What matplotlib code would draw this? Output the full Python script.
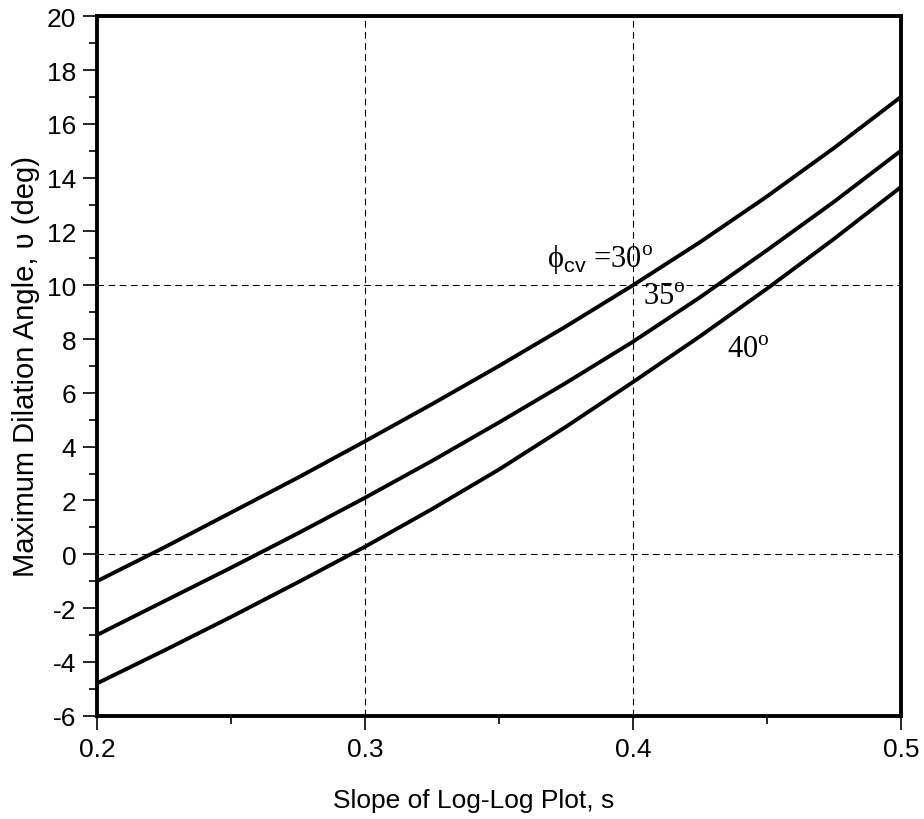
import numpy as np
import matplotlib
matplotlib.use("Agg")
import matplotlib.pyplot as plt
from matplotlib.ticker import MultipleLocator

plt.rcParams['font.family'] = ['Liberation Sans', 'DejaVu Sans']
plt.rcParams['axes.unicode_minus'] = False
plt.rcParams['mathtext.fontset'] = 'custom'
plt.rcParams['mathtext.rm'] = 'Liberation Serif'
plt.rcParams['mathtext.sf'] = 'Liberation Sans'

# slope of log-log plot
slope = [0.200, 0.225, 0.250, 0.275, 0.300, 0.325, 0.350,
         0.375, 0.400, 0.425, 0.450, 0.475, 0.500]
# maximum dilation angle (deg) for each critical-state friction angle
psi_30 = [-1.0, 0.25, 1.55, 2.85, 4.2, 5.58, 7.0,
          8.47, 10.0, 11.6, 13.3, 15.1, 17.0]
psi_35 = [-3.0, -1.75, -0.5, 0.78, 2.1, 3.47, 4.9,
          6.37, 7.9, 9.55, 11.3, 13.1, 15.0]
psi_40 = [-4.8, -3.58, -2.33, -1.04, 0.28, 1.68, 3.15,
          4.74, 6.4, 8.1, 9.87, 11.72, 13.65]

fig = plt.figure(figsize=(9.24, 8.2), dpi=100)
ax = fig.add_axes([0.105, 0.126, 0.870, 0.853])

for psi in (psi_30, psi_35, psi_40):
    ax.plot(slope, psi, color='black', lw=2.8, solid_joinstyle='round', zorder=3)

# reference grid
for xv in (0.3, 0.4):
    ax.axvline(xv, color='black', lw=0.8, ls=(0, (6, 4)), zorder=1)
for yv in (0, 10):
    ax.axhline(yv, color='black', lw=0.8, ls=(0, (6, 4)), zorder=1)

ax.set_xlim(0.2, 0.5)
ax.set_ylim(-6, 20)
ax.set_xticks([0.2, 0.3, 0.4, 0.5])
ax.set_xticklabels(['0.2', '0.3', '0.4', '0.5'])
ax.xaxis.set_minor_locator(MultipleLocator(0.05))
ax.yaxis.set_major_locator(MultipleLocator(2))
ax.yaxis.set_minor_locator(MultipleLocator(1))
ax.tick_params(which='major', direction='out', length=10, width=1.2, labelsize=19, pad=5)
ax.tick_params(which='minor', direction='out', length=6, width=1.2)
for sp in ax.spines.values():
    sp.set_linewidth(2.8)

ax.set_xlabel('Slope of Log-Log Plot, s', fontsize=19)
ax.xaxis.set_label_coords(0.469, -0.104)
ax.set_ylabel('Maximum Dilation Angle, υ (deg)', fontsize=21, labelpad=5)

# curve labels
ax.text(0.368, 10.68, r'$\mathrm{\phi}_{\mathsf{cv}}$ =30$^{\mathrm{o}}$', fontsize=22,
        family='Liberation Serif', ha='left', va='baseline')
ax.text(0.4037, 9.3, r'35$^{\mathrm{o}}$', fontsize=22,
        family='Liberation Serif', ha='left', va='baseline')
ax.text(0.435, 7.33, r'40$^{\mathrm{o}}$', fontsize=22,
        family='Liberation Serif', ha='left', va='baseline')

fig.savefig('out.png', dpi=100)
